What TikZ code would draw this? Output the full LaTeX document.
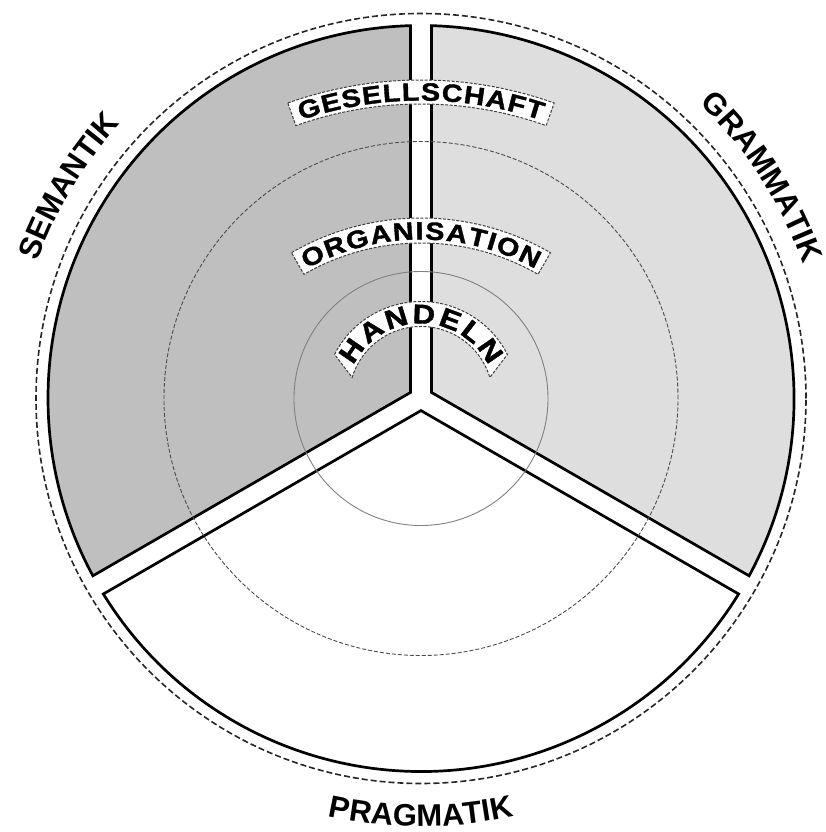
\documentclass[tikz,border=0pt]{standalone}
\usepackage{fontspec}
\setmainfont{Liberation Sans}
\newfontfamily\myArchFamily[FakeStretch=1.15, FakeBold=1.5]{Liberation Sans Bold}
\usetikzlibrary{decorations.text}
\definecolor{semfill}{gray}{0.75}
\definecolor{gramfill}{gray}{0.87}
\newcommand\myOuterFont{\fontsize{31}{31}\selectfont\bfseries}
\newcommand\myInnerFont{\myArchFamily\fontsize{25}{25}\selectfont}
\newcommand\myCoreFont{\myArchFamily\fontsize{27}{27}\selectfont}
\begin{document}
\begin{tikzpicture}[x=1pt,y=1pt,
  sectorline/.style={draw=black, line width=2.7pt, line join=miter},
  outerring/.style={draw=black!85, line width=1.6pt, dash pattern=on 6pt off 3pt},
  midring/.style={draw=black!70, line width=0.9pt, dash pattern=on 4pt off 2pt},
  innerring/.style={draw=black!50, line width=0.9pt},
  labelbox/.style={draw=black!75, fill=white, line width=1pt, dash pattern=on 3pt off 1.5pt},
  archtext/.style={decorate, decoration={text along path, text align={fit to path}, text={#1}}},
  outertext/.style={decorate, decoration={text along path, text align=center, text={#1}}}
]
\useasboundingbox (-421,-433.5) rectangle (404,398.5);
% sectors
\path[sectorline, fill=semfill] (150:12.1) -- (91.61:373) arc[start angle=91.61, end angle=208.39, radius=373] -- cycle;
\path[sectorline, fill=gramfill] (30:12.1) -- (-28.39:373) arc[start angle=-28.39, end angle=88.39, radius=373] -- cycle;
\path[sectorline, fill=white] (270:12.1) -- (211.61:373) arc[start angle=211.61, end angle=328.39, radius=373] -- cycle;
% rings
\draw[outerring] (0,0) circle[radius=385];
\draw[midring] (0,0) circle[radius=257];
\draw[innerring] (0,0) circle[radius=127];
% GESELLSCHAFT
\begin{scope}[shift={(0,-78.5)}]
\path[labelbox] (109.6:397) arc[start angle=109.6, end angle=70.4, radius=397] -- (70.4:373) arc[start angle=70.4, end angle=109.6, radius=373] -- cycle;
\path[archtext={|\myInnerFont|GESELLSCHAFT}] (108.6:376.5) arc[start angle=108.6, end angle=71.4, radius=376.5];
\end{scope}
% ORGANISATION
\begin{scope}[shift={(0,-78.5)}]
\path[labelbox] (120:259) arc[start angle=120, end angle=60, radius=259] -- (60:234) arc[start angle=60, end angle=120, radius=234] -- cycle;
\path[archtext={|\myInnerFont|ORGANISATION}] (118.8:237.5) arc[start angle=118.8, end angle=61.2, radius=237.5];
\end{scope}
% HANDELN
\path[labelbox] (153:97) arc[start angle=153, end angle=27, radius=97] -- (17:72) arc[start angle=17, end angle=163, radius=72] -- cycle;
\path[archtext={|\myCoreFont|HANDELN}] (154:75) arc[start angle=154, end angle=26, radius=75];
% outer labels
\path[outertext={|\myOuterFont|SEMANTIK}] (176:407) arc[start angle=176, end angle=122, radius=407];
\path[outertext={|\myOuterFont|GRAMMATIK}] (60:405) arc[start angle=60, end angle=6, radius=405];
\path[outertext={|\myOuterFont|PRAGMATIK}] (240:428) arc[start angle=240, end angle=300, radius=428];
\end{tikzpicture}
\end{document}
